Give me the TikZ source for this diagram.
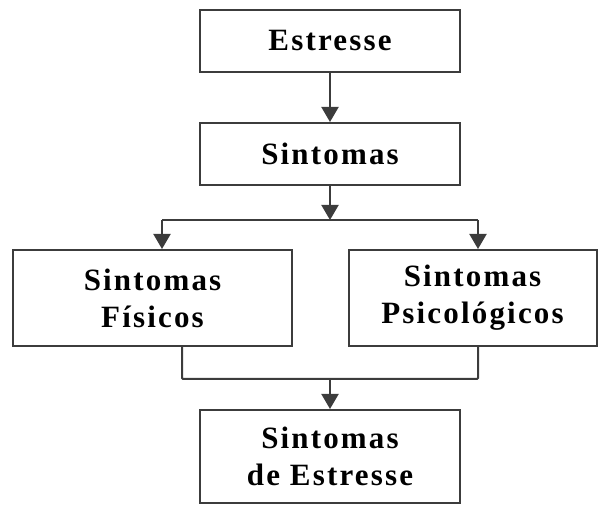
\documentclass[tikz,border=0pt]{standalone}
\usepackage{fontspec}
\setmainfont{Liberation Serif}[LetterSpace=7]
\usepackage{tikz}
\usetikzlibrary{arrows.meta, positioning, calc}
\definecolor{cLine}{RGB}{60,60,60}
\tikzset{
    caixa/.style={rectangle, draw=cLine, line width=2pt, minimum width=260pt, minimum height=62pt, text centered, align=center, inner sep=0pt},
    seta/.style ={-{Triangle[length=15pt, width=17pt]}, draw=cLine, line width=2pt},
    linha/.style={draw=cLine, line width=2pt, rounded corners=1pt},
}

\begin{document}
\begin{tikzpicture}[x=1pt, y=-1pt, every node/.style={font=\fontsize{31}{37}\selectfont\bfseries}]
        \useasboundingbox (0,0) rectangle (598,505);
        \node[caixa] (est) at (330,41) {Estresse};
        \node[caixa] (sin) at (330,154) {Sintomas};
        \node[caixa, minimum width=279pt, minimum height=96pt] (fis) at (152.5,298) {Sintomas\\Físicos};
        \node[caixa, minimum width=248pt, minimum height=96pt] (psi) at (472.5,298) {Sintomas\\Psicológicos};
        \node[caixa, minimum height=93pt] (sde) at (330,456.5) {Sintomas\\de Estresse};
        % pontos de ramificacao
        \coordinate (div) at (330,220);
        \coordinate (divL) at (162,220);
        \coordinate (divR) at (478,220);
        \coordinate (unL) at (182,379);
        \coordinate (unR) at (478,379);
        \coordinate (un) at (330,379);
        \draw[seta] (est.south) -- (sin.north);
        \draw[seta] (sin.south) -- (div);
        \draw[linha] (divL) -- (divR);
        \draw[seta] (divL) -- (divL |- fis.north);
        \draw[seta] (divR) -- (divR |- psi.north);
        \draw[linha] (fis.south -| unL) -- (unL) -- (unR) -- (psi.south -| unR);
        \draw[seta] (un) -- (sde.north);
    \end{tikzpicture}
\end{document}
